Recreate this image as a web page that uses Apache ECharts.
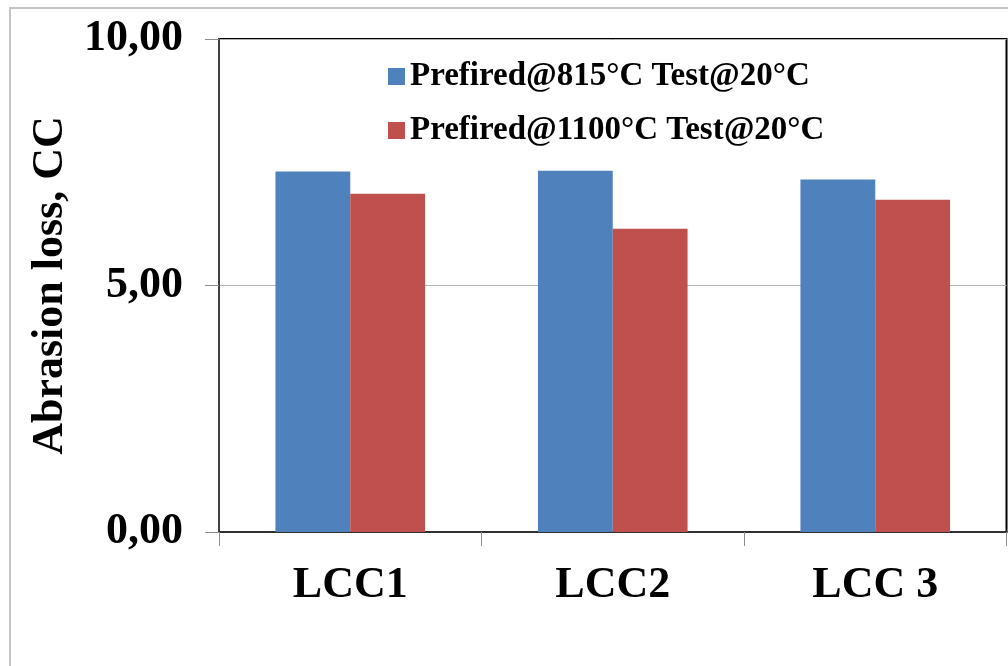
<!DOCTYPE html>
<html>
<head>
<meta charset="utf-8">
<script src="https://cdn.jsdelivr.net/npm/echarts@6/dist/echarts.min.js"></script>
<style>
  html, body { margin: 0; padding: 0; background: #fff; }
  #chart { width: 1008px; height: 666px; }
</style>
</head>
<body>
<div id="chart"></div>
<script>
// Abrasion loss per castable, two prefiring temperatures
const categories = ['LCC1', 'LCC2', 'LCC 3'];
const seriesNames = ['Prefired@815°C Test@20°C', 'Prefired@1100°C Test@20°C'];
const loss815 = [7.31, 7.33, 7.15];
const loss1100 = [6.86, 6.15, 6.74];
const yTicks = [0, 5, 10];

const FONT = '"Liberation Serif", "Times New Roman", serif';

const chart = echarts.init(document.getElementById('chart'), null, { renderer: 'canvas' });

chart.setOption({
  animation: false,
  backgroundColor: '#ffffff',
  graphic: [{
    type: 'rect',
    shape: { x: 10, y: 8, width: 1200, height: 900 },
    style: { fill: 'none', stroke: '#c4c4c4', lineWidth: 2 },
    z: -1
  }],
  grid: {
    left: 219, right: 1.5, top: 39, bottom: 134,
    show: true, borderColor: '#000', borderWidth: 2, backgroundColor: 'transparent'
  },
  legend: {
    orient: 'vertical',
    left: 383, top: 55,
    itemWidth: 17, itemHeight: 17, itemGap: 21,
    icon: 'rect',
    textStyle: { fontFamily: FONT, fontWeight: 'bold', fontSize: 33, color: '#000', lineHeight: 33, padding: [0, 0, 0, 0] },
    data: seriesNames
  },
  xAxis: {
    type: 'category',
    data: categories,
    axisLine: { lineStyle: { color: '#303030', width: 2 } },
    axisTick: { show: true, length: 14, lineStyle: { color: '#8c8c8c', width: 1 } },
    axisLabel: { fontFamily: FONT, fontWeight: 'bold', fontSize: 44, color: '#000', margin: 32 },
    splitLine: { show: false }
  },
  yAxis: {
    type: 'value',
    min: yTicks[0], max: yTicks[yTicks.length - 1], interval: 5,
    name: 'Abrasion loss, CC',
    nameLocation: 'middle',
    nameGap: 138,
    nameRotate: 90,
    nameTextStyle: { fontFamily: FONT, fontWeight: 'bold', fontSize: 44, color: '#000' },
    axisLine: { show: true, lineStyle: { color: '#404040', width: 2 } },
    axisTick: { show: true, length: 14, lineStyle: { color: '#8c8c8c', width: 1 } },
    axisLabel: {
      fontFamily: FONT, fontWeight: 'bold', fontSize: 44, color: '#000', margin: 36,
      formatter: v => v.toFixed(2).replace('.', ',')
    },
    splitLine: { show: true, lineStyle: { color: '#b3b3b3', width: 1 } }
  },
  series: [
    {
      name: seriesNames[0], type: 'bar', data: loss815,
      barGap: '0%', barCategoryGap: '43%',
      itemStyle: { color: '#4f81bd' }
    },
    {
      name: seriesNames[1], type: 'bar', data: loss1100,
      barGap: '0%', barCategoryGap: '43%',
      itemStyle: { color: '#c0504d' }
    }
  ]
});
</script>
</body>
</html>
